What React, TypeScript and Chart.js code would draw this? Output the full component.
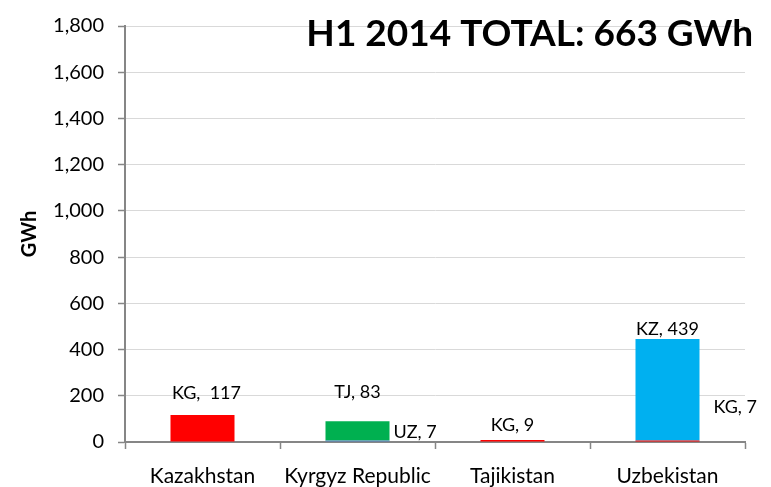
import React, { useEffect, useRef } from "react";
import { Chart, registerables } from "chart.js";

Chart.register(...registerables);

const categories = ["Kazakhstan", "Kyrgyz Republic", "Tajikistan", "Uzbekistan"];
const seriesCodes = ["KG", "UZ", "TJ", "KZ"];
const toKG = [117, 0, 9, 7];
const toUZ = [0, 7, 0, 0];
const toTJ = [0, 83, 0, 0];
const toKZ = [0, 0, 0, 439];
const yMax = 1800;
const yStep = 200;
const titleText = "H1 2014 TOTAL: 663 GWh";
const yAxisTitle = "GWh";

const seriesColors = ["#FF0000", "#4F81BD", "#00B050", "#00B0F0"];

// label placement (style): per dataset index & category index
const labelPlacement = [
  { ds: 0, i: 0, pos: "top", d: 22, sep: ",  " },
  { ds: 2, i: 1, pos: "top", d: 29 },
  { ds: 1, i: 1, pos: "right", d: 10, dx: 4 },
  { ds: 0, i: 2, pos: "top", d: 15 },
  { ds: 3, i: 3, pos: "top", d: 10 },
  { ds: 0, i: 3, pos: "right", d: 35, dx: 14 },
];

const FONT = "Lato, 'Open Sans', sans-serif";

const labelPlugin = {
  id: "customLabels",
  afterDraw(chart: any) {
    const ctx = chart.ctx;
    const y = chart.scales.y;
    ctx.save();
    ctx.fillStyle = "#000";
    ctx.font = `18px ${FONT}`;
    ctx.textBaseline = "middle";
    for (const p of labelPlacement) {
      const ds = chart.data.datasets[p.ds];
      const v = ds.data[p.i];
      const text = `${seriesCodes[p.ds]}${p.sep || ", "}${v}`;
      const el = chart.getDatasetMeta(p.ds).data[p.i];
      if (p.pos === "top") {
        let total = 0;
        chart.data.datasets.forEach((d: any) => (total += d.data[p.i]));
        const topY = y.getPixelForValue(total);
        ctx.textAlign = "center";
        ctx.fillText(text, el.x + (p.sep ? 4 : 0), topY - p.d);
      } else {
        const right = el.x + el.width / 2;
        ctx.textAlign = "left";
        ctx.fillText(text, right + (p.dx || 0), y.getPixelForValue(0) - p.d);
      }
    }
    // title
    ctx.font = `bold 37px ${FONT}`;
    ctx.textAlign = "right";
    ctx.textBaseline = "alphabetic";
    ctx.fillText(titleText, chart.chartArea.right + 8, 46);
    ctx.restore();
  },
};

export default function App() {
  const ref = useRef<HTMLCanvasElement | null>(null);
  useEffect(() => {
    document.body.style.margin = "0";
    const chart = new Chart(ref.current as HTMLCanvasElement, {
      type: "bar",
      data: {
        labels: categories,
        datasets: [toKG, toUZ, toTJ, toKZ].map((d, k) => ({
          label: seriesCodes[k],
          data: d,
          backgroundColor: seriesColors[k],
          borderWidth: 0,
          barPercentage: 0.413,
          categoryPercentage: 1,
        })),
      },
      options: {
        responsive: false,
        animation: false,
        layout: { padding: { left: 0, right: 26, top: 20, bottom: 0 } },
        plugins: { legend: { display: false }, tooltip: { enabled: false } },
        scales: {
          x: {
            stacked: true,
            z: 1,
            afterFit: (s: any) => {
              s.height = 45;
            },
            grid: {
              offset: true,
              drawOnChartArea: false,
              drawTicks: true,
              tickLength: 7,
              tickColor: "#868686",
              tickWidth: 1.5,
            },
            border: { color: "#868686", width: 2 },
            ticks: { color: "#000", font: { family: FONT, size: 21 }, padding: 15 },
          },
          y: {
            stacked: true,
            min: 0,
            max: yMax,
            afterFit: (s: any) => {
              s.width = 125;
            },
            grid: {
              color: "#D9D9D9",
              lineWidth: 1,
              tickLength: 7,
              tickColor: "#868686",
              tickWidth: 1.5,
            },
            border: { color: "#868686", width: 2 },
            ticks: {
              stepSize: yStep,
              color: "#000",
              padding: 14,
              font: { family: FONT, size: 20 },
              callback: (v: any) => Number(v).toLocaleString("en-US"),
            },
            title: {
              display: true,
              text: yAxisTitle,
              color: "#000",
              font: { family: FONT, size: 20, weight: "bold" },
              padding: { top: 18, bottom: 0 },
            },
          },
        },
      },
      plugins: [labelPlugin],
    });
    return () => chart.destroy();
  }, []);
  return <canvas ref={ref} width={771} height={487} style={{ display: "block" }} />;
}
